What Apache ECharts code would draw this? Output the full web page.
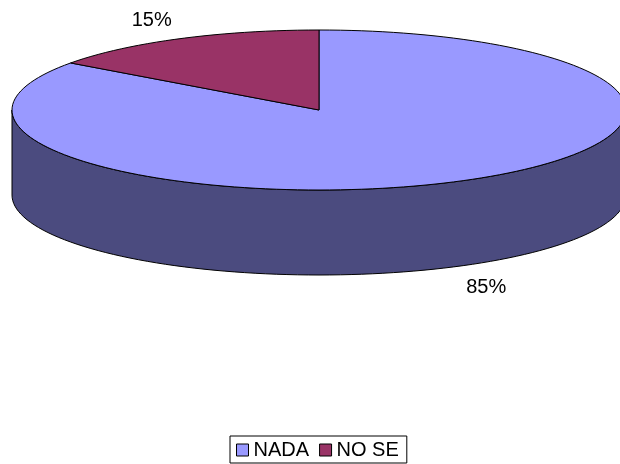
<!DOCTYPE html>
<html>
<head>
<meta charset="utf-8">
<script src="https://cdn.jsdelivr.net/npm/echarts@6/dist/echarts.min.js"></script>
<style>
  html, body { margin: 0; padding: 0; background: #fff; }
  #chart { width: 620px; height: 464px; }
</style>
</head>
<body>
<div id="chart"></div>
<script>
// Answers and their shares (percent)
const categories = ['NADA', 'NO SE'];
const values = [85, 15];

// Face colours of each slice: top and outer wall
const topColors = ['#9999FF', '#993366'];
const sideColors = ['#4B4B7F', '#4D1A33'];

// Tilted disc layout
const CX = 319, CY = 110, RX = 307, RY = 80, DEPTH = 85;
const FONT = '20px Arial, "Liberation Sans", sans-serif';

const total = values.reduce((a, b) => a + b, 0);

// point on the rim, angle in degrees clockwise from 12 o'clock
function rim(deg, dy) {
  const r = deg * Math.PI / 180;
  return [CX + RX * Math.sin(r), CY - RY * Math.cos(r) + dy];
}
function arc(a0, a1, dy) {
  const pts = [];
  const n = Math.max(2, Math.ceil(Math.abs(a1 - a0) / 2));
  for (let i = 0; i <= n; i++) pts.push(rim(a0 + (a1 - a0) * i / n, dy));
  return pts;
}

function makeRenderer(si) {
  return function (params, api) {
    const v = api.value(0);
    let before = 0;
    for (let k = 0; k < si; k++) before += values[k];
    const a0 = before / total * 360;
    const a1 = a0 + v / total * 360;
    const children = [];

    // outer wall, only the part facing the viewer (90..270 deg)
    const s0 = Math.max(a0, 90), s1 = Math.min(a1, 270);
    if (s1 > s0) {
      const pts = arc(s0, s1, 0).concat(arc(s0, s1, DEPTH).reverse());
      children.push({
        type: 'polygon', z2: 1,
        shape: { points: pts },
        style: { fill: sideColors[si], stroke: '#000', lineWidth: 1 }
      });
    }

    // top face
    children.push({
      type: 'polygon', z2: 2,
      shape: { points: [[CX, CY]].concat(arc(a0, a1, 0)) },
      style: { fill: topColors[si], stroke: '#000', lineWidth: 1, lineJoin: 'miter' }
    });

    // percentage label outside the rim
    const mid = (a0 + a1) / 2 * Math.PI / 180;
    const front = Math.cos(mid) < 0;
    const lx = CX + RX * 1.2 * Math.sin(mid);
    const ly = CY - RY * 1.27 * Math.cos(mid) + (front ? DEPTH : 0) + 1.5;
    children.push({
      type: 'text', z2: 3,
      x: lx, y: ly,
      style: {
        text: Math.round(v / total * 100) + '%',
        font: FONT, fill: '#000',
        align: 'center', verticalAlign: 'middle'
      }
    });

    return { type: 'group', children: children };
  };
}

const chart = echarts.init(document.getElementById('chart'), null, { renderer: 'canvas' });
chart.setOption({
  animation: false,
  backgroundColor: '#fff',
  legend: {
    data: categories,
    left: 230, top: 436,
    orient: 'horizontal',
    icon: 'rect',
    itemWidth: 12, itemHeight: 12,
    itemGap: 10,
    padding: [4, 8, 3, 6],
    borderColor: '#000', borderWidth: 1,
    selectedMode: false,
    itemStyle: { borderColor: '#000', borderWidth: 1 },
    textStyle: { fontSize: 20, fontFamily: 'Arial, "Liberation Sans", sans-serif', color: '#000' }
  },
  series: categories.map((name, si) => ({
    type: 'custom',
    name: name,
    coordinateSystem: 'none',
    itemStyle: { color: topColors[si] },
    silent: true,
    data: [values[si]],
    renderItem: makeRenderer(si)
  }))
});
</script>
</body>
</html>
